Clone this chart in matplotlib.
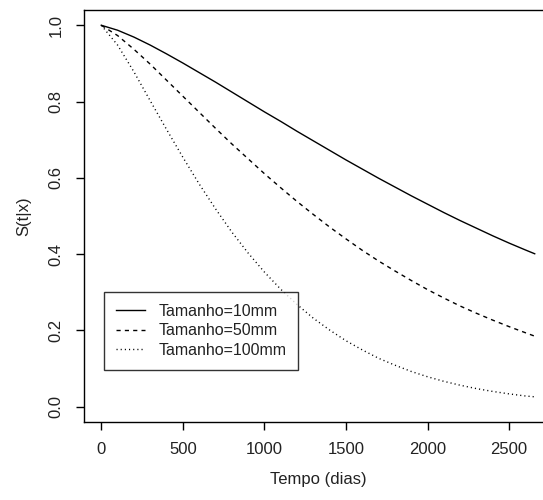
import matplotlib
matplotlib.use("Agg")
import matplotlib.pyplot as plt

# Time grid (days) and survival estimates
tempo = [0, 100, 200, 300, 400, 500, 600, 700, 800, 900, 1000, 1100, 1200, 1300,
         1400, 1500, 1600, 1700, 1800, 1900, 2000, 2100, 2200, 2300, 2400, 2500,
         2600, 2657]
s_10mm = [1.000, 0.987, 0.969, 0.948, 0.925, 0.901, 0.876, 0.851, 0.825, 0.799,
          0.773, 0.748, 0.722, 0.697, 0.672, 0.647, 0.623, 0.599, 0.576, 0.553,
          0.531, 0.509, 0.488, 0.468, 0.448, 0.429, 0.411, 0.401]
s_50mm = [1.000, 0.973, 0.937, 0.898, 0.856, 0.814, 0.772, 0.730, 0.689, 0.650,
          0.611, 0.574, 0.538, 0.504, 0.471, 0.440, 0.410, 0.382, 0.356, 0.331,
          0.307, 0.285, 0.264, 0.245, 0.227, 0.210, 0.194, 0.185]
s_100mm = [1.000, 0.948, 0.878, 0.802, 0.727, 0.654, 0.584, 0.519, 0.458, 0.403,
           0.353, 0.308, 0.268, 0.232, 0.201, 0.173, 0.149, 0.127, 0.109, 0.0925,
           0.0786, 0.0666, 0.0564, 0.0475, 0.0401, 0.0337, 0.0282, 0.026]
labels = ["Tamanho=10mm", "Tamanho=50mm", "Tamanho=100mm"]
x_ticks = [0, 500, 1000, 1500, 2000, 2500]
y_ticks = [0.0, 0.2, 0.4, 0.6, 0.8, 1.0]

plt.rcParams["font.family"] = ["Liberation Sans", "DejaVu Sans"]
W, H = 543, 500
fig = plt.figure(figsize=(W / 100, H / 100), dpi=100)
ax = fig.add_axes([84 / W, (H - 422) / H, 468 / W, 412 / H])

ax.plot(tempo, s_10mm, color="black", lw=1.0, ls="-", label=labels[0])
ax.plot(tempo, s_50mm, color="black", lw=1.0, ls=(0, (3, 3)), label=labels[1])
ax.plot(tempo, s_100mm, color="black", lw=1.0, ls=(0, (0.8, 2.2)), label=labels[2])

ax.set_xlim(-106, 2763)
ax.set_ylim(-0.04, 1.04)
ax.set_xticks(x_ticks)
ax.set_xticklabels([str(v) for v in x_ticks])
ax.set_yticks(y_ticks)
ax.set_yticklabels([f"{v:.1f}" for v in y_ticks], rotation=90, va="center")
ax.tick_params(axis="both", direction="out", length=5.5, width=1.0,
               labelsize=12, pad=9, color="black", labelcolor="#222222")
for sp in ax.spines.values():
    sp.set_linewidth(1.0)
    sp.set_color("black")

ax.set_xlabel("Tempo (dias)", fontsize=12, labelpad=11, color="#222222")
ax.set_ylabel("S(t|x)", fontsize=12, labelpad=13, color="#222222")

leg = ax.legend(loc="upper left", bbox_to_anchor=(104 / W, 1 - 292 / H),
                bbox_transform=fig.transFigure, borderaxespad=0,
                fontsize=11.5, frameon=True, fancybox=False, shadow=False,
                handlelength=1.8, handletextpad=0.85, borderpad=0.75,
                labelspacing=0.28)
leg.get_frame().set_edgecolor("black")
leg.get_frame().set_linewidth(1.0)
for t in leg.get_texts():
    t.set_color("#222222")

fig.savefig("out.png", dpi=100)
